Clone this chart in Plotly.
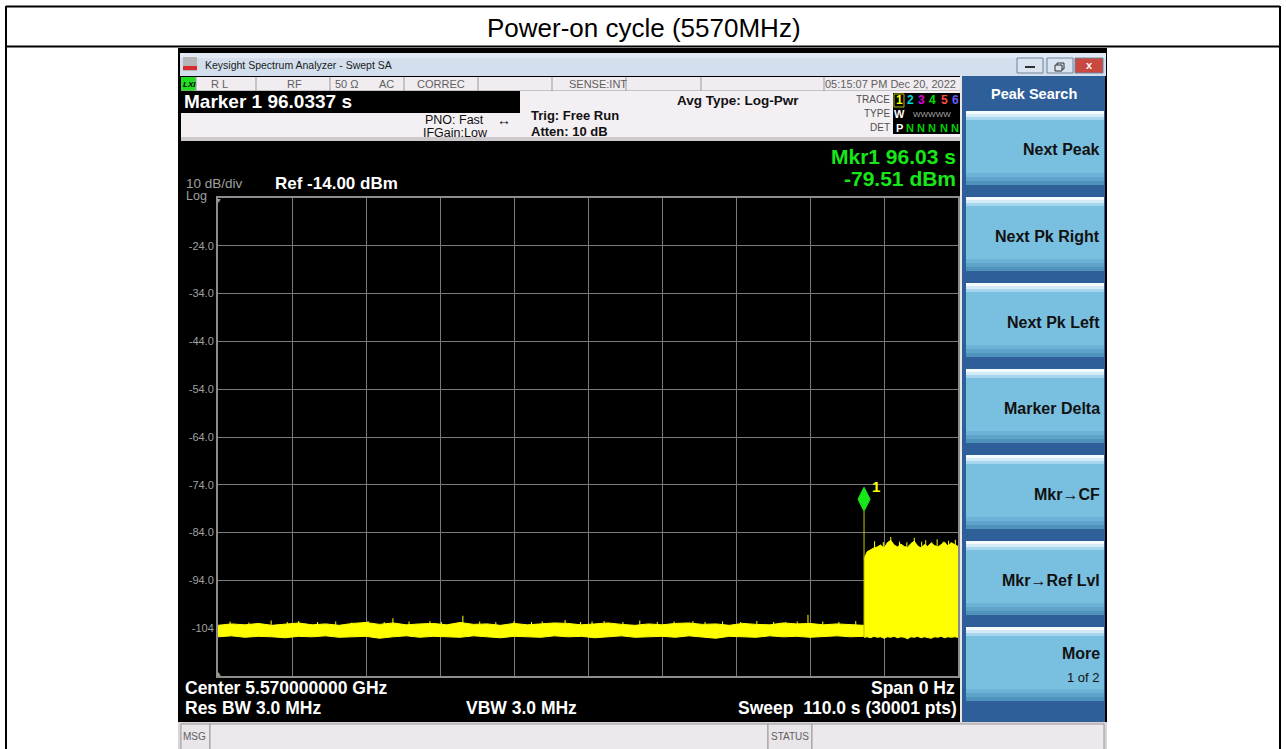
import plotly.graph_objects as go

W, H = 1286, 749
FONT = "Liberation Sans"

# ---------------- data ----------------
title_text = "Power-on cycle (5570MHz)"
x_grid_vals = [0, 11, 22, 33, 44, 55, 66, 77, 88, 99, 110]
y_tick_vals = [-24, -34, -44, -54, -64, -74, -84, -94, -104]
y_tick_text = ["-24.0", "-34.0", "-44.0", "-54.0", "-64.0", "-74.0", "-84.0", "-94.0", "-104"]

floor_t = [0, 2, 4, 6, 8, 10, 12, 14, 16, 18, 20, 22, 24, 26, 28, 30, 32, 34, 36, 38,
           40, 42, 44, 46, 48, 50, 52, 54, 56, 58, 60, 62, 64, 66, 68, 70, 72, 74, 76, 78,
           80, 82, 84, 86, 88, 90, 92, 94, 96]
floor_hi = [-103.4, -103.1, -103.3, -103.0, -103.4, -103.2, -102.9, -103.3, -103.1, -103.4,
            -103.0, -102.8, -103.2, -102.9, -103.3, -103.1, -103.0, -103.3, -102.8, -103.2,
            -103.1, -103.4, -103.0, -103.3, -103.1, -102.9, -103.0, -103.3, -103.1, -102.9,
            -103.2, -103.4, -103.1, -103.3, -103.0, -102.9, -103.2, -103.1, -103.4, -103.0,
            -103.2, -103.3, -102.9, -103.1, -103.0, -103.3, -103.1, -103.2, -103.4]
floor_lo = [-105.8, -105.6, -105.9, -105.7, -105.8, -106.0, -105.7, -105.8, -105.6, -105.9,
            -105.8, -105.7, -106.1, -105.8, -105.6, -105.9, -105.7, -105.8, -105.9, -105.6,
            -105.8, -106.0, -105.7, -105.8, -105.9, -105.6, -105.8, -105.7, -106.0, -105.8,
            -105.6, -105.9, -105.8, -105.7, -105.9, -105.6, -105.8, -106.1, -105.7, -105.8,
            -105.9, -105.6, -105.8, -105.7, -105.9, -105.8, -105.6, -105.8, -105.7]
floor_spike_t = [1.8, 4.6, 7.9, 10.3, 12.0, 14.8, 17.5, 19.9, 22.3, 24.7, 26.0, 28.4, 31.5, 33.2,
                 36.4, 38.9, 41.3, 44.0, 46.6, 48.2, 51.6, 53.9, 55.6, 57.4, 60.2, 62.7, 65.3,
                 67.8, 70.6, 72.4, 75.0, 77.7, 80.1, 82.6, 84.4, 86.1, 87.7, 89.9, 92.3, 94.8]
floor_spike_db = [-102.6, -102.8, -102.4, -102.7, -102.5, -102.7, -102.6, -102.8, -102.5, -102.7,
                  -101.9, -102.6, -102.5, -102.7, -101.4, -102.6, -102.7, -102.5, -102.7, -102.6,
                  -102.3, -102.7, -102.6, -102.5, -102.7, -102.4, -102.7, -102.6, -102.5, -102.7,
                  -102.6, -102.7, -102.5, -102.7, -102.7, -102.6, -101.2, -102.6, -102.7, -102.5]

burst_t = [96.03, 96.5, 97.0, 97.5, 98.0, 98.5, 99.0, 99.5, 100.0, 100.5, 101.0, 101.5, 102.0,
           102.5, 103.0, 103.5, 104.0, 104.5, 105.0, 105.5, 106.0, 106.5, 107.0, 107.5, 108.0,
           108.5, 109.0, 109.5, 110.0]
burst_hi = [-89.5, -88.0, -87.6, -87.2, -87.0, -86.6, -87.3, -86.1, -85.6, -86.6, -87.0, -86.4,
            -86.9, -87.1, -86.3, -85.8, -86.8, -87.2, -86.5, -86.9, -86.2, -86.7, -87.0, -86.4,
            -86.0, -86.8, -86.1, -86.5, -86.9]
burst_lo = [-105.9, -105.8, -106.0, -105.7, -105.9, -105.8, -106.1, -105.8, -105.9, -105.7,
            -106.0, -105.8, -105.9, -106.2, -105.8, -105.9, -105.7, -106.0, -105.8, -105.9,
            -106.1, -105.8, -105.9, -105.7, -106.0, -105.8, -105.9, -105.8, -105.9]
burst_spike_t = [97.6, 98.9, 100.0, 101.3, 102.4, 103.5, 104.6, 105.2, 106.1, 106.9, 107.8, 108.6, 109.6]
burst_spike_db = [-85.8, -86.0, -84.9, -85.9, -86.0, -85.1, -85.9, -85.6, -86.0, -85.4, -85.9, -85.7, -85.5]

mkr_t = 96.0337
mkr_db = -79.51

status_cells = ["R L", "RF", "50 Ω", "AC", "CORREC", "SENSE:INT", "05:15:07 PM Dec 20, 2022"]
softkey_title = "Peak Search"
softkeys = ["Next Peak", "Next Pk Right", "Next Pk Left", "Marker Delta", "Mkr→CF", "Mkr→Ref Lvl", "More"]

# ---------------- helpers ----------------
shapes = []
anns = []


def rect(x0, y0, x1, y1, fill, line=None, lw=0, layer="below"):
    shapes.append(dict(type="rect", xref="paper", yref="paper",
                       x0=x0 / W, x1=x1 / W, y0=1 - y1 / H, y1=1 - y0 / H,
                       fillcolor=fill, line=dict(width=lw, color=line or fill), layer=layer))


def hline(x0, x1, y, color, w=1, layer="below"):
    shapes.append(dict(type="line", xref="paper", yref="paper", x0=x0 / W, x1=x1 / W,
                       y0=1 - y / H, y1=1 - y / H, line=dict(color=color, width=w), layer=layer))


def vline(x, y0, y1, color, w=1, layer="below"):
    shapes.append(dict(type="line", xref="paper", yref="paper", x0=x / W, x1=x / W,
                       y0=1 - y0 / H, y1=1 - y1 / H, line=dict(color=color, width=w), layer=layer))


def txt(s, x, y, size, color="black", bold=False, anchor="left", family=FONT):
    anns.append(dict(text=f"<b>{s}</b>" if bold else s, x=x / W, y=1 - y / H,
                     xref="paper", yref="paper", xanchor=anchor, yanchor="middle",
                     showarrow=False, borderpad=0,
                     font=dict(size=size, color=color, family=family)))


# ---------------- document table ----------------
vline(6, 6, 750, "black", 2)
vline(1280, 6, 750, "black", 2)
hline(6, 1280, 6.5, "black", 2)
hline(6, 1280, 46.5, "black", 2)
txt(title_text, 644, 28, 26, "black", anchor="center")

# ---------------- window ----------------
rect(178, 48, 1107, 750, "#000000")
# title bar
rect(180, 53, 1106, 76, "#d3dfec")
rect(180, 53, 1106, 58, "#e2ebf5")
rect(183, 57, 197, 71, "#b5b5b5")
rect(183, 66, 197, 70, "#d92b2b")
txt("Keysight Spectrum Analyzer - Swept SA", 204, 65, 10.5, "#1a1a1a")
for bx0, bx1, fc in [(1017, 1043, "#d9e4f0"), (1047, 1073, "#d9e4f0"), (1075, 1103, "#c9483f")]:
    rect(bx0, 58, bx1, 73, fc, "#6f829c", 1)
hline(1025, 1035, 67, "#303030", 2)
rect(1057, 63, 1064, 69, "rgba(0,0,0,0)", "#303030", 1)
rect(1055, 65, 1062, 71, "#d9e4f0", "#303030", 1)
txt("x", 1089, 65, 11, "white", bold=True, anchor="center")

# status row
rect(181, 77, 962, 91, "#f0ecf0")
rect(181, 77, 196, 91, "#22dd22")
txt("<i>LXI</i>", 182, 84, 8, "black", bold=True)
for dx in [196, 256, 330, 404, 478, 552, 626, 701, 824]:
    vline(dx, 77, 91, "#9a9a9a")
hline(181, 962, 91, "#9a9a9a")
status_pos = [(210, "left"), (294, "center"), (347, "center"), (386, "center"),
              (441, "center"), (598, "center"), (890, "center")]
for s, (sx, an) in zip(status_cells, status_pos):
    txt(s, sx, 84, 11, "#606060", anchor=an)

# info panel
rect(181, 91, 962, 141, "#f3eff3")
rect(181, 137, 962, 141, "#cdc9cd")
rect(181, 91, 520, 113, "#000000")
txt("Marker 1 96.0337 s", 183, 102, 19, "white", bold=True)
txt("PNO: Fast", 485, 120, 12.5, "#111111", anchor="right")
txt("IFGain:Low", 489, 133, 12.5, "#111111", anchor="right")
txt("↔", 504, 120, 14, "#111111", anchor="center")
txt("Trig: Free Run", 530, 115, 13, "#111111", bold=True)
txt("Atten: 10 dB", 530, 131, 13, "#111111", bold=True)
txt("Avg Type: Log-Pwr", 676, 100, 13.5, "#111111", bold=True)
txt("TRACE", 891, 99, 10, "#505050", anchor="right")
txt("TYPE", 891, 113, 10, "#505050", anchor="right")
txt("DET", 891, 127, 10, "#505050", anchor="right")
rect(893, 93, 961, 134, "#000000")
rect(894, 94, 904, 107, "rgba(0,0,0,0)", "#b8b800", 1)
tr_cols = ["#ffff00", "#00d8d8", "#e000e0", "#00e000", "#ff4a4a", "#6a5cff"]
tr_x = [899, 910, 921, 932, 944, 955]
for i, (cx, cc) in enumerate(zip(tr_x, tr_cols)):
    txt(str(i + 1), cx, 100, 12, cc, bold=True, anchor="center")
txt("W", 899, 114, 11, "white", bold=True, anchor="center")
txt("WWWWW", 932, 114, 8, "#a8a8a8", anchor="center")
txt("P", 899, 128, 11, "white", bold=True, anchor="center")
for cx in tr_x[1:]:
    txt("N", cx, 128, 11, "#00d000", bold=True, anchor="center")

# display area
rect(181, 141, 960, 722, "#000000")
vline(961, 76, 722, "#e8e8e8", 2)
txt("Mkr1 96.03 s", 957, 157, 21, "#19e619", bold=True, anchor="right")
txt("-79.51 dBm", 957, 179, 21, "#19e619", bold=True, anchor="right")
txt("10 dB/div", 185, 183, 13.5, "#a0a0a0")
txt("Log", 185, 196, 12.5, "#a0a0a0")
txt("Ref -14.00 dBm", 274, 183, 17, "white", bold=True)
txt("▼", 218, 200, 7, "#9a9a9a", anchor="center")
txt("▲", 218, 673, 7, "#9a9a9a", anchor="center")
txt("Center 5.570000000 GHz", 184, 688, 17.5, "white", bold=True)
txt("Res BW 3.0 MHz", 184, 708, 17.5, "white", bold=True)
txt("VBW 3.0 MHz", 465, 708, 17.5, "white", bold=True)
txt("Span 0 Hz", 956, 688, 17.5, "white", bold=True, anchor="right")
txt("Sweep\u00a0 110.0 s (30001 pts)", 958, 708, 17.5, "white", bold=True, anchor="right")

# softkey panel
rect(962, 76, 1105, 722, "#2f5f98")
txt(softkey_title, 1034, 94, 14.5, "white", bold=True, anchor="center")
tops = [111, 197, 283, 369, 455, 541, 627]
for i, (top, lab) in enumerate(zip(tops, softkeys)):
    rect(966, top, 1104, top + 74, "#79bfe0")
    rect(966, top, 1104, top + 3, "#f4fbfe")
    rect(966, top + 3, 1104, top + 6, "#d2ebf6")
    rect(966, top + 6, 1104, top + 9, "#a6d6ed")
    rect(966, top + 62, 1104, top + 66, "#6db3d7")
    rect(966, top + 66, 1104, top + 70, "#5ea3ca")
    rect(966, top + 70, 1104, top + 74, "#4f92bb")
    if lab == "More":
        txt(lab, 1101, top + 26, 16, "#111111", bold=True, anchor="right")
        txt("1 of 2", 1101, top + 50, 13, "#111111", anchor="right")
    else:
        txt(lab, 1101, top + 39, 16, "#111111", bold=True, anchor="right")

# bottom bar
rect(178, 722, 1107, 750, "#d8d4d8")
rect(181, 724, 210, 750, "#e9e5e9", "#9a9a9a", 1)
rect(210, 724, 768, 750, "#ece8ec", "#9a9a9a", 1)
rect(768, 724, 812, 750, "#e9e5e9", "#9a9a9a", 1)
rect(812, 724, 1104, 750, "#ece8ec", "#9a9a9a", 1)
txt("MSG", 195, 736, 10, "#606060", anchor="center")
txt("STATUS", 790, 736, 10, "#606060", anchor="center")

# ---------------- traces ----------------
fig = go.Figure()
YEL = "#ffff00"
fig.add_trace(go.Scatter(x=floor_t + floor_t[::-1], y=floor_hi + floor_lo[::-1],
                         mode="lines", fill="toself", fillcolor=YEL,
                         line=dict(color=YEL, width=1), hoverinfo="skip"))
fig.add_trace(go.Scatter(x=burst_t + burst_t[::-1], y=burst_hi + burst_lo[::-1],
                         mode="lines", fill="toself", fillcolor=YEL,
                         line=dict(color=YEL, width=1), hoverinfo="skip"))
sx, sy = [], []
for t, v in zip(floor_spike_t, floor_spike_db):
    sx += [t, t, None]
    sy += [floor_hi[0], v, None]
for t, v in zip(burst_spike_t, burst_spike_db):
    sx += [t, t, None]
    sy += [burst_hi[1], v, None]
fig.add_trace(go.Scatter(x=sx, y=sy, mode="lines", line=dict(color=YEL, width=1),
                         hoverinfo="skip"))
fig.add_trace(go.Scatter(x=[mkr_t, mkr_t], y=[burst_lo[0], mkr_db], mode="lines",
                         line=dict(color="#c8c000", width=1), hoverinfo="skip"))

# marker diamond (data coords), bottom tip on the marker point
hw, hh = 0.9, 2.5
shapes.append(dict(type="path", xref="x", yref="y", layer="above",
                   path=f"M {mkr_t},{mkr_db} L {mkr_t + hw},{mkr_db + hh} L {mkr_t},{mkr_db + 2 * hh} "
                        f"L {mkr_t - hw},{mkr_db + hh} Z",
                   fillcolor="#19e619", line=dict(color="#19e619", width=1)))
anns.append(dict(text="<b>1</b>", x=mkr_t + 1.8, y=mkr_db + 5.2, xref="x", yref="y", showarrow=False,
                 xanchor="center", yanchor="middle", font=dict(size=15, color=YEL, family=FONT)))

fig.update_layout(
    width=W, height=H, margin=dict(l=0, r=0, t=0, b=0),
    paper_bgcolor="white", plot_bgcolor="black", showlegend=False,
    shapes=shapes, annotations=anns,
    xaxis=dict(domain=[218 / W, 958 / W], range=[0, 110], tickvals=x_grid_vals,
               showticklabels=False, ticks="", showgrid=True, gridcolor="#7a7a7a", gridwidth=1,
               zeroline=False, showline=True, linecolor="#8c8c8c", linewidth=2, mirror=True,
               fixedrange=True),
    yaxis=dict(domain=[1 - 676 / H, 1 - 198 / H], range=[-114, -14], tickvals=y_tick_vals,
               ticktext=y_tick_text, tickfont=dict(size=11, color="#a0a0a0", family=FONT),
               ticks="", showgrid=True, gridcolor="#7a7a7a", gridwidth=1, zeroline=False,
               showline=True, linecolor="#8c8c8c", linewidth=2, mirror=True, fixedrange=True),
)

fig.write_html("out.html", config={"displayModeBar": False},
               post_script="document.body.style.margin='0';document.body.style.overflow='hidden';")
